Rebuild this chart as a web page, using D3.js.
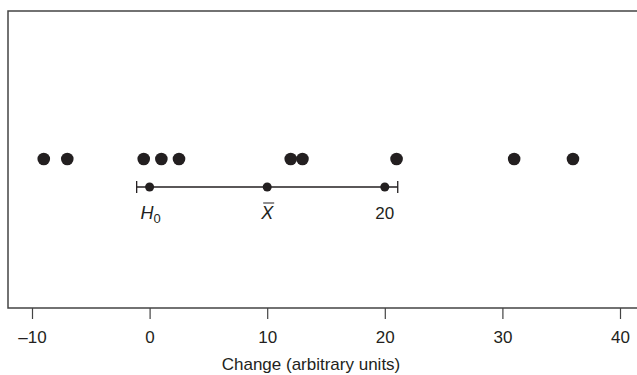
<!DOCTYPE html>
<html>
<head>
<meta charset="utf-8">
<script src="https://cdn.jsdelivr.net/npm/d3@7"></script>
<style>
  body { margin: 0; background: #fff; }
  text { font-family: "Liberation Sans", Arial, sans-serif; fill: #231f20; }
</style>
</head>
<body>
<svg id="grafico" width="637" height="375"></svg>
<script>
// observaciones (cambio, unidades arbitrarias)
var cambios = [-9, -7, -0.5, 1, 2.5, 12, 13, 21, 31, 36];
// intervalo alrededor de la media
var intervalo = [-1.1, 21.1];
// puntos marcados sobre el intervalo
var marcas = [0, 10, 20];
var etiquetasMarcas = ["H0", "Xbar", "20"];
var ticksX = [-10, 0, 10, 20, 30, 40];

var width = 637, height = 375;
var margins = { top: 11, left: 8, bottom: 308 };
var tinta = "#231f20";

var svg = d3.select("#grafico");

// escala X: -10 en 32px, 40 en 620px
var escalaX = d3.scaleLinear().domain([-10, 40]).range([32, 620]);

// marco: arriba, izquierda y abajo
svg.append("path")
    .attr("d", "M" + width + "," + margins.top + "H" + margins.left + "V" + margins.bottom + "H" + width)
    .attr("fill", "none")
    .attr("stroke", "#444")
    .attr("stroke-width", 1.5);

// eje X
var ejeX = d3.axisBottom(escalaX)
    .tickValues(ticksX)
    .tickSize(11)
    .tickPadding(12)
    .tickFormat(function (d) { return d < 0 ? "\u2013" + Math.abs(d) : d; });

var gEje = svg.append("g")
    .attr("transform", "translate(0," + margins.bottom + ")")
    .call(ejeX);
gEje.select(".domain").remove();
gEje.selectAll(".tick line").attr("stroke", "#444").attr("stroke-width", 1.2);
gEje.selectAll(".tick text")
    .style("font-size", "17px")
    .style("font-family", "'Liberation Sans', Arial, sans-serif")
    .attr("fill", tinta);

// titulo del eje
svg.append("text")
    .attr("x", 311)
    .attr("y", 370)
    .attr("text-anchor", "middle")
    .style("font-size", "17px")
    .text("Change (arbitrary units)");

// puntos de datos
var yPuntos = 159;
svg.selectAll(".punto")
    .data(cambios)
    .enter()
    .append("circle")
    .attr("class", "punto")
    .attr("cx", function (d) { return escalaX(d); })
    .attr("cy", yPuntos)
    .attr("r", 6.3)
    .attr("fill", tinta);

// intervalo
var yInt = 187;
svg.append("line")
    .attr("x1", escalaX(intervalo[0])).attr("x2", escalaX(intervalo[1]))
    .attr("y1", yInt).attr("y2", yInt)
    .attr("stroke", tinta).attr("stroke-width", 1.3);
svg.selectAll(".tope")
    .data(intervalo)
    .enter()
    .append("line")
    .attr("x1", function (d) { return escalaX(d); })
    .attr("x2", function (d) { return escalaX(d); })
    .attr("y1", yInt - 6).attr("y2", yInt + 6)
    .attr("stroke", tinta).attr("stroke-width", 1.3);

svg.selectAll(".marca")
    .data(marcas)
    .enter()
    .append("circle")
    .attr("cx", function (d) { return escalaX(d); })
    .attr("cy", yInt)
    .attr("r", 4.5)
    .attr("fill", tinta);

// etiquetas del intervalo
var yEtiq = 219;
var tH0 = svg.append("text")
    .attr("x", escalaX(marcas[0]) - 9)
    .attr("y", yEtiq)
    .style("font-size", "18px")
    .style("font-style", "italic");
tH0.append("tspan").text("H");
tH0.append("tspan").text("0").attr("dy", 4).style("font-size", "13px").style("font-style", "normal");

svg.append("text")
    .attr("x", escalaX(marcas[1]))
    .attr("y", yEtiq)
    .attr("text-anchor", "middle")
    .style("font-size", "18px")
    .style("font-style", "italic")
    .text("X");
svg.append("line")
    .attr("x1", escalaX(marcas[1]) - 4).attr("x2", escalaX(marcas[1]) + 7)
    .attr("y1", yEtiq - 16).attr("y2", yEtiq - 16)
    .attr("stroke", tinta).attr("stroke-width", 1);

svg.append("text")
    .attr("x", escalaX(marcas[2]))
    .attr("y", yEtiq)
    .attr("text-anchor", "middle")
    .style("font-size", "17px")
    .text(etiquetasMarcas[2]);
</script>
</body>
</html>
